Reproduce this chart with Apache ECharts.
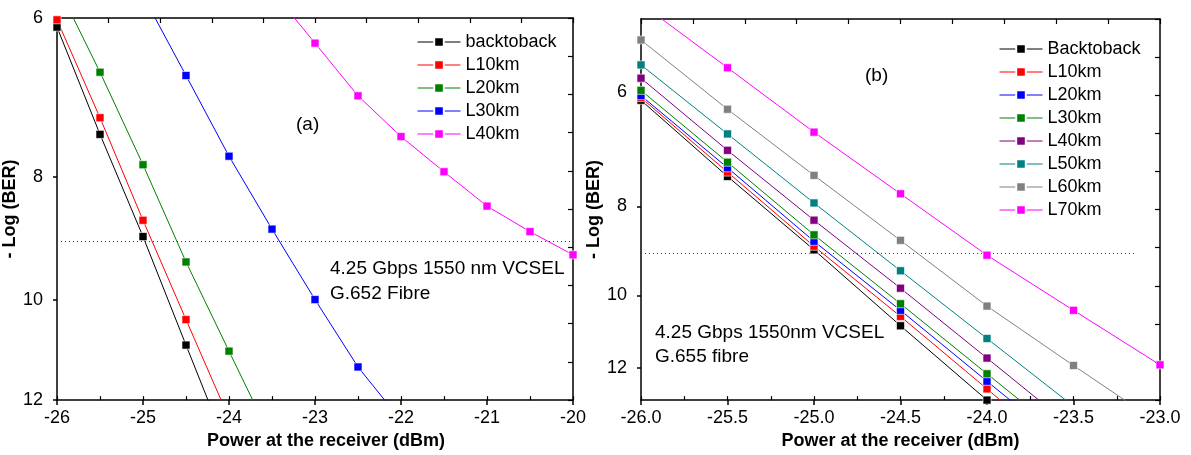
<!DOCTYPE html>
<html>
<head>
<meta charset="utf-8">
<title>BER vs received power</title>
<script src="https://cdn.jsdelivr.net/npm/echarts@6/dist/echarts.min.js"></script>
<style>
  html, body { margin: 0; padding: 0; background: #ffffff; }
  #chart { width: 1191px; height: 455px; }
</style>
</head>
<body>
<div id="chart"></div>
<script>
// Received optical power (dBm) at each measurement step
const powerA = [-26, -25.5, -25, -24.5, -24, -23.5, -23, -22.5, -22, -21.5, -21, -20.5, -20];
const powerB = [-26, -25.5, -25, -24.5, -24, -23.5, -23];

// (a) G.652 fibre: -log10(BER) per link length (null = no measurement)
const aBacktoback = [6.10, 7.41, 8.92, 10.86, 13.2, null, null, null, null, null, null, null, null];
const aL10km      = [6.02, 7.19, 8.66, 10.37, 12.4, null, null, null, null, null, null, null, null];
const aL20km      = [5.65, 6.62, 7.83, 9.34, 10.98, 12.9, null, null, null, null, null, null, null];
const aL30km      = [null, null, 5.76, 6.66, 7.71, 8.80, 10.0, 11.30, 12.45, null, null, null, null];
const aL40km      = [null, null, null, null, null, 5.71, 6.28, 6.91, 7.44, 7.93, 8.44, 8.84, 9.22];

// (b) G.655 fibre: -log10(BER) per link length
const bBacktoback = [6.13, 7.42, 8.92, 10.79, 13.0, null, null];
const bL10km      = [6.09, 7.34, 8.84, 10.54, 12.64, 15.2, null];
const bL20km      = [6.06, 7.26, 8.73, 10.38, 12.40, 14.8, null];
const bL30km      = [5.98, 7.16, 8.59, 10.21, 12.17, 14.5, null];
const bL40km      = [5.80, 6.95, 8.28, 9.82, 11.70, 13.95, null];
const bL50km      = [5.61, 6.67, 7.93, 9.40, 11.14, 13.2, null];
const bL60km      = [5.27, 6.27, 7.40, 8.71, 10.27, 11.92, 13.8];
const bL70km      = [4.81, 5.65, 6.64, 7.75, 9.04, 10.38, 11.90];

// Legend names
const namesA = ['backtoback', 'L10km', 'L20km', 'L30km', 'L40km'];
const namesB = ['Backtoback', 'L10km', 'L20km', 'L30km', 'L40km', 'L50km', 'L60km', 'L70km'];

// Y tick labels (log-scaled -log BER axis)
const yTicksA = [6, 8, 10, 12];
const yTicksB = [6, 8, 10, 12];

// BER = 1e-9 reference level and the power span it is drawn across
const berLimit = 9;
const limitSpanA = [-26, -20];
const limitSpanB = [-26, -23.15];

const colorsA = ['#000000', '#ff0000', '#008000', '#0000ff', '#ff00ff'];
const colorsB = ['#000000', '#ff0000', '#0000ff', '#008000', '#800080', '#008080', '#808080', '#ff00ff'];

const FONT = '"Liberation Sans", Arial, Helvetica, sans-serif';

function pairs(xs, ys) {
  const out = [];
  ys.forEach((v, i) => { if (v !== null) out.push([xs[i], v]); });
  return out;
}

function curve(key, color, xs, ys, xi, yi) {
  return {
    name: key,
    type: 'line',
    xAxisIndex: xi,
    yAxisIndex: yi,
    data: pairs(xs, ys),
    symbol: 'rect',
    symbolSize: 8,
    clip: true,
    itemStyle: { color: color, borderColor: '#ffffff', borderWidth: 0.6 },
    lineStyle: { color: color, width: 1 },
    emphasis: { disabled: true },
    z: 3
  };
}

function limitLine(span, xi, yi) {
  return {
    name: 'limit',
    type: 'line',
    xAxisIndex: xi,
    yAxisIndex: yi,
    data: [[span[0], berLimit], [span[1], berLimit]],
    symbol: 'none',
    lineStyle: { color: '#333333', width: 1, type: [1, 3] },
    silent: true,
    z: 2
  };
}

const axisLineStyle = { show: true, lineStyle: { color: '#000', width: 1.5 } };
const labelStyle = { color: '#000', fontSize: 18, fontFamily: FONT };
const nameStyle = { color: '#000', fontSize: 18, fontWeight: 'bold', fontFamily: FONT };

function bottomAxis(grid, min, max, step, fmt, padLeft) {
  return {
    gridIndex: grid, type: 'value', position: 'bottom',
    min: min, max: max, interval: step,
    axisLine: axisLineStyle,
    axisTick: { show: true, inside: false, length: 5, lineStyle: { color: '#000', width: 1.5 } },
    axisLabel: Object.assign({ margin: 9, formatter: fmt }, labelStyle),
    splitLine: { show: false },
    name: 'Power at the receiver (dBm)',
    nameLocation: 'middle', nameGap: 31,
    nameTextStyle: Object.assign({ padding: [0, 0, 0, padLeft] }, nameStyle)
  };
}
function minorAxis(grid, min, max, step) {
  return {
    gridIndex: grid, type: 'value', position: 'bottom',
    min: min, max: max, interval: step,
    axisLine: { show: false },
    axisTick: { show: true, inside: true, length: 4, lineStyle: { color: '#000', width: 1.2 } },
    axisLabel: { show: false },
    splitLine: { show: false }
  };
}
function frameAxis(grid, pos) {
  return {
    gridIndex: grid, type: 'value', position: pos,
    min: 0, max: 10, interval: 1,
    axisLine: axisLineStyle,
    axisTick: { show: true, inside: true, length: 5, lineStyle: { color: '#000', width: 1.2 } },
    axisLabel: { show: false },
    splitLine: { show: false }
  };
}
function berAxis(grid, min, max, ticks, gap) {
  return {
    gridIndex: grid, type: 'log', logBase: 10, position: 'left', inverse: true,
    min: min, max: max,
    axisLine: axisLineStyle,
    axisTick: { show: true, inside: false, length: 4, customValues: ticks, lineStyle: { color: '#000', width: 1.5 } },
    axisLabel: Object.assign({ margin: 14, customValues: ticks, formatter: v => String(Math.round(v)) }, labelStyle),
    minorTick: { show: false },
    splitLine: { show: false },
    name: '- Log (BER)',
    nameLocation: 'middle', nameGap: gap,
    nameTextStyle: nameStyle
  };
}

function legendBlock(left, top, names, colors, prefix) {
  return {
    orient: 'vertical', left: left, top: top, padding: 0,
    itemWidth: 43, itemHeight: 12, itemGap: 5,
    selectedMode: false,
    formatter: n => n.slice(prefix.length),
    textStyle: { color: '#000', fontSize: 18, lineHeight: 18, fontFamily: FONT },
    data: names.map((n, i) => ({
      name: prefix + n,
      itemStyle: { color: colors[i], borderColor: '#ffffff', borderWidth: 2 },
      lineStyle: { color: colors[i], width: 1 }
    }))
  };
}

function note(x, y, text) {
  return {
    type: 'text', x: x, y: y, silent: true,
    style: { text: text, fill: '#000', font: '19px ' + FONT, verticalAlign: 'middle' }
  };
}

const seriesA = [aBacktoback, aL10km, aL20km, aL30km, aL40km];
const seriesB = [bBacktoback, bL10km, bL20km, bL30km, bL40km, bL50km, bL60km, bL70km];

const series = [limitLine(limitSpanA, 0, 0), limitLine(limitSpanB, 3, 2)];
seriesA.forEach((ys, i) => series.push(curve('a|' + namesA[i], colorsA[i], powerA, ys, 0, 0)));
seriesB.forEach((ys, i) => series.push(curve('b|' + namesB[i], colorsB[i], powerB, ys, 3, 2)));

const option = {
  animation: false,
  backgroundColor: '#ffffff',
  textStyle: { fontFamily: FONT },
  grid: [
    { left: 57, top: 18, width: 516, height: 384 },
    { left: 641, top: 19, width: 519, height: 383 }
  ],
  xAxis: [
    bottomAxis(0, -26, -20, 1, v => String(v), 22),
    frameAxis(0, 'top'),
    minorAxis(0, -26, -20, 0.5),
    bottomAxis(1, -26, -23, 0.5, v => v.toFixed(1), 0),
    frameAxis(1, 'top'),
    minorAxis(1, -26, -23, 0.25)
  ],
  yAxis: [
    berAxis(0, 6, 12, yTicksA, 30),
    frameAxis(0, 'right'),
    berAxis(1, 5, 13, yTicksB, 24),
    frameAxis(1, 'right')
  ],
  legend: [
    legendBlock(417, 33, namesA, colorsA, 'a|'),
    legendBlock(999, 40, namesB, colorsB, 'b|')
  ],
  graphic: [
    note(296, 125, '(a)'),
    note(865, 76, '(b)'),
    note(330, 269, '4.25 Gbps 1550 nm VCSEL'),
    note(330, 294, 'G.652 Fibre'),
    note(655, 333, '4.25 Gbps 1550nm VCSEL'),
    note(655, 357, 'G.655 fibre')
  ],
  series: series
};

const chart = echarts.init(document.getElementById('chart'), null, { renderer: 'canvas' });
chart.setOption(option);
</script>
</body>
</html>
